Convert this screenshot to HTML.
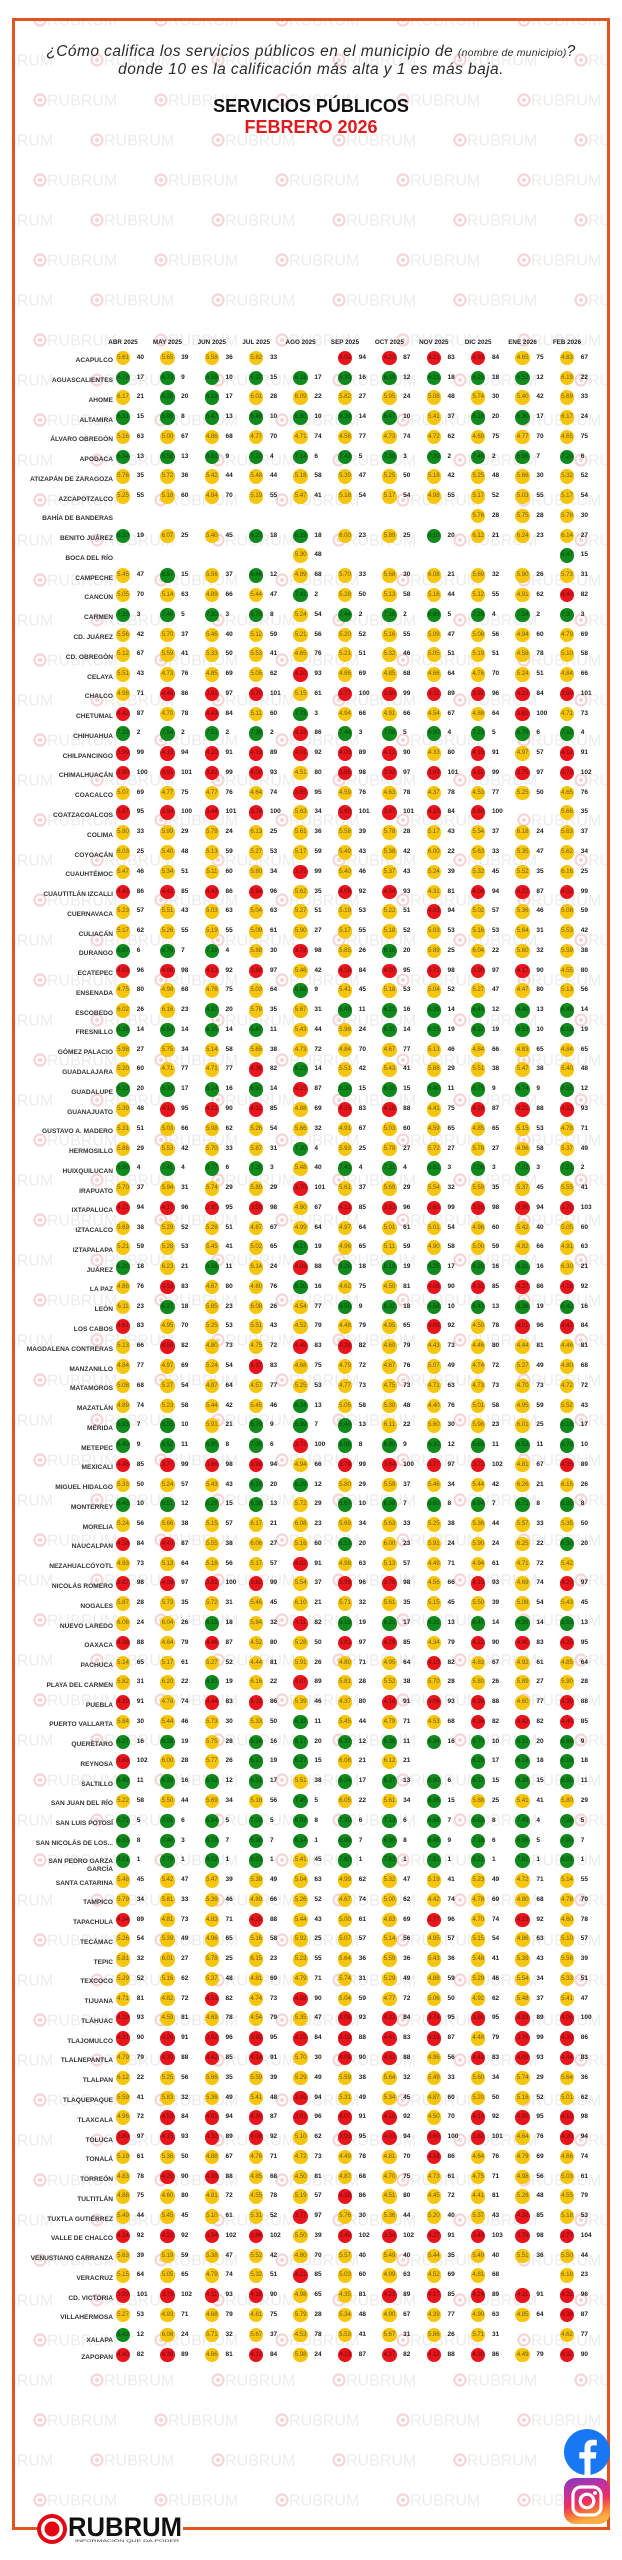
<!DOCTYPE html>
<html lang="es">
<head>
<meta charset="utf-8">
<style>
*{margin:0;padding:0;box-sizing:border-box}
html,body{width:622px;height:2560px;background:#fff;overflow:hidden}
body{position:relative;font-family:"Liberation Sans",Arial,sans-serif;color:#222}
.wm{position:absolute;left:0;top:0}
.frame{position:absolute;left:12px;top:18px;width:598px;height:2512px;border:3px solid #E5531F}
.q{position:absolute;left:0;width:622px;text-align:center;font-style:italic;font-size:15.5px;letter-spacing:.45px;line-height:18px;color:#2b2b2b;white-space:nowrap}
.q small{font-size:10.5px;letter-spacing:.2px}
.t{position:absolute;left:0;width:622px;text-align:center;font-weight:bold;font-size:18px;line-height:20px;white-space:nowrap;color:#111}
.h{position:absolute;top:339px;width:50px;text-align:center;font-size:6.3px;font-weight:bold;line-height:8px;color:#222;white-space:nowrap}
.w{position:absolute;left:0;width:622px;height:15px}
.l{position:absolute;right:509px;top:6.5px;font-size:6.6px;font-weight:bold;line-height:8px;color:#333;white-space:nowrap;text-align:right}
.w i{position:absolute;top:0;width:14.5px;height:14.5px;border-radius:50%;font-style:normal;font-size:6.2px;line-height:14.5px;text-align:center;color:rgba(0,0,0,.55);letter-spacing:-.1px}
.w b{position:absolute;left:21px;top:0;font-size:6.5px;line-height:14.5px;color:#1e1e1e;letter-spacing:0;text-align:left}
.y{background:#F6C50E}.g{background:#108A1C}.d{background:#E8161C}
.a0{left:115.75px}.a1{left:160.15px}.a2{left:204.55px}.a3{left:248.95px}.a4{left:293.35px}.a5{left:337.75px}.a6{left:382.15px}.a7{left:426.55px}.a8{left:470.95px}.a9{left:515.35px}.a10{left:559.75px}
</style>
</head>
<body>
<svg class="wm" width="622" height="2560" viewBox="0 0 622 2560">
<defs>
<pattern id="wp" patternUnits="userSpaceOnUse" x="0" y="440" width="121" height="80">
<g font-family="Liberation Sans, sans-serif" font-size="16" fill="#ececec">
<circle cx="97" cy="20" r="5.5" fill="none" stroke="#f5d6d6" stroke-width="2.2"/><circle cx="97" cy="20" r="2.2" fill="#f5d6d6"/>
<text x="104" y="25.7">RUBRUM</text>
<circle cx="-24" cy="20" r="5.5" fill="none" stroke="#f5d6d6" stroke-width="2.2"/><circle cx="-24" cy="20" r="2.2" fill="#f5d6d6"/>
<text x="-17" y="25.7">RUBRUM</text>
<circle cx="40" cy="60" r="5.5" fill="none" stroke="#f5d6d6" stroke-width="2.2"/><circle cx="40" cy="60" r="2.2" fill="#f5d6d6"/>
<text x="47" y="65.7">RUBRUM</text>
</g>
</pattern>
</defs>
<rect x="15" y="21" width="592" height="2506" fill="url(#wp)"/>
</svg>
<div class="frame"></div>

<div class="q" style="top:43px">¿Cómo califica los servicios públicos en el municipio de <small>(nombre de municipio)</small>?</div>
<div class="q" style="top:61px">donde 10 es la calificación más alta y 1 es más baja.</div>
<div class="t" style="top:96px">SERVICIOS PÚBLICOS</div>
<div class="t" style="top:117px;color:#E0191E">FEBRERO 2026</div>

<div class="h" style="left:98px">ABR 2025</div>
<div class="h" style="left:142.4px">MAY 2025</div>
<div class="h" style="left:186.8px">JUN 2025</div>
<div class="h" style="left:231.2px">JUL 2025</div>
<div class="h" style="left:275.6px">AGO 2025</div>
<div class="h" style="left:320px">SEP 2025</div>
<div class="h" style="left:364.4px">OCT 2025</div>
<div class="h" style="left:408.8px">NOV 2025</div>
<div class="h" style="left:453.2px">DIC 2025</div>
<div class="h" style="left:497.6px">ENE 2026</div>
<div class="h" style="left:542px">FEB 2026</div>

<div class="w" style="top:350.75px"><p class="l">ACAPULCO</p><i class="y a0">5.61<b>40</b></i><i class="y a1">5.65<b>39</b></i><i class="y a2">5.58<b>36</b></i><i class="y a3">5.82<b>33</b></i><i class="d a5">4.03<b>94</b></i><i class="d a6">4.23<b>87</b></i><i class="d a7">4.21<b>83</b></i><i class="d a8">4.35<b>84</b></i><i class="y a9">4.65<b>75</b></i><i class="y a10">4.83<b>67</b></i></div>
<div class="w" style="top:370.52px"><p class="l">AGUASCALIENTES</p><i class="g a0">6.78<b>17</b></i><i class="g a1">6.73<b>9</b></i><i class="g a2">6.59<b>10</b></i><i class="g a3">6.32<b>15</b></i><i class="g a4">6.18<b>17</b></i><i class="g a5">6.30<b>16</b></i><i class="g a6">6.39<b>12</b></i><i class="g a7">6.21<b>18</b></i><i class="g a8">6.25<b>18</b></i><i class="g a9">6.52<b>12</b></i><i class="y a10">6.19<b>22</b></i></div>
<div class="w" style="top:390.29px"><p class="l">AHOME</p><i class="y a0">6.17<b>21</b></i><i class="g a1">6.28<b>20</b></i><i class="g a2">6.19<b>17</b></i><i class="y a3">6.01<b>28</b></i><i class="y a4">6.09<b>22</b></i><i class="y a5">5.82<b>27</b></i><i class="y a6">5.95<b>24</b></i><i class="y a7">5.08<b>48</b></i><i class="y a8">5.74<b>30</b></i><i class="y a9">5.40<b>42</b></i><i class="y a10">5.69<b>33</b></i></div>
<div class="w" style="top:410.06px"><p class="l">ALTAMIRA</p><i class="g a0">6.31<b>15</b></i><i class="g a1">6.99<b>8</b></i><i class="g a2">6.47<b>13</b></i><i class="g a3">6.48<b>10</b></i><i class="g a4">6.60<b>10</b></i><i class="g a5">6.39<b>14</b></i><i class="g a6">6.47<b>10</b></i><i class="y a7">5.41<b>37</b></i><i class="g a8">6.18<b>20</b></i><i class="g a9">6.30<b>17</b></i><i class="y a10">6.17<b>24</b></i></div>
<div class="w" style="top:429.83px"><p class="l">ÁLVARO OBREGÓN</p><i class="y a0">5.16<b>63</b></i><i class="y a1">5.00<b>67</b></i><i class="y a2">4.86<b>68</b></i><i class="y a3">4.77<b>70</b></i><i class="y a4">4.71<b>74</b></i><i class="y a5">4.58<b>77</b></i><i class="y a6">4.73<b>74</b></i><i class="y a7">4.72<b>62</b></i><i class="y a8">4.69<b>75</b></i><i class="y a9">4.77<b>70</b></i><i class="y a10">4.65<b>75</b></i></div>
<div class="w" style="top:449.60px"><p class="l">APODACA</p><i class="g a0">6.34<b>13</b></i><i class="g a1">6.58<b>13</b></i><i class="g a2">6.81<b>9</b></i><i class="g a3">7.22<b>4</b></i><i class="g a4">7.14<b>6</b></i><i class="g a5">7.43<b>5</b></i><i class="g a6">7.39<b>3</b></i><i class="g a7">7.39<b>2</b></i><i class="g a8">7.48<b>2</b></i><i class="g a9">6.98<b>7</b></i><i class="g a10">7.20<b>6</b></i></div>
<div class="w" style="top:469.37px"><p class="l">ATIZAPÁN DE ZARAGOZA</p><i class="y a0">5.76<b>35</b></i><i class="y a1">5.72<b>36</b></i><i class="y a2">5.42<b>44</b></i><i class="y a3">5.48<b>44</b></i><i class="y a4">5.18<b>58</b></i><i class="y a5">5.39<b>47</b></i><i class="y a6">5.25<b>50</b></i><i class="y a7">5.18<b>42</b></i><i class="y a8">5.25<b>48</b></i><i class="y a9">5.66<b>30</b></i><i class="y a10">5.32<b>52</b></i></div>
<div class="w" style="top:489.14px"><p class="l">AZCAPOTZALCO</p><i class="y a0">5.25<b>55</b></i><i class="y a1">5.18<b>60</b></i><i class="y a2">4.84<b>70</b></i><i class="y a3">5.19<b>55</b></i><i class="y a4">5.47<b>41</b></i><i class="y a5">5.18<b>54</b></i><i class="y a6">5.17<b>54</b></i><i class="y a7">4.98<b>55</b></i><i class="y a8">5.17<b>52</b></i><i class="y a9">5.03<b>55</b></i><i class="y a10">5.17<b>54</b></i></div>
<div class="w" style="top:508.91px"><p class="l">BAHÍA DE BANDERAS</p><i class="y a8">5.76<b>28</b></i><i class="y a9">5.75<b>28</b></i><i class="y a10">5.78<b>30</b></i></div>
<div class="w" style="top:528.68px"><p class="l">BENITO JUÁREZ</p><i class="g a0">6.20<b>19</b></i><i class="y a1">6.07<b>25</b></i><i class="y a2">5.40<b>45</b></i><i class="g a3">6.27<b>18</b></i><i class="g a4">6.19<b>18</b></i><i class="y a5">6.00<b>23</b></i><i class="y a6">5.89<b>25</b></i><i class="g a7">6.10<b>20</b></i><i class="y a8">6.12<b>21</b></i><i class="y a9">6.24<b>23</b></i><i class="y a10">6.14<b>27</b></i></div>
<div class="w" style="top:548.45px"><p class="l">BOCA DEL RÍO</p><i class="y a4">5.30<b>48</b></i><i class="g a10">6.47<b>15</b></i></div>
<div class="w" style="top:568.22px"><p class="l">CAMPECHE</p><i class="y a0">5.45<b>47</b></i><i class="g a1">6.57<b>15</b></i><i class="y a2">5.56<b>37</b></i><i class="g a3">6.46<b>12</b></i><i class="y a4">4.89<b>68</b></i><i class="y a5">5.70<b>33</b></i><i class="y a6">5.68<b>30</b></i><i class="y a7">6.08<b>21</b></i><i class="y a8">5.69<b>32</b></i><i class="y a9">5.90<b>26</b></i><i class="y a10">5.73<b>31</b></i></div>
<div class="w" style="top:587.99px"><p class="l">CANCÚN</p><i class="y a0">5.05<b>70</b></i><i class="y a1">5.14<b>63</b></i><i class="y a2">4.89<b>66</b></i><i class="y a3">5.44<b>47</b></i><i class="g a4">7.41<b>2</b></i><i class="y a5">5.28<b>50</b></i><i class="y a6">5.13<b>58</b></i><i class="y a7">5.16<b>44</b></i><i class="y a8">5.12<b>55</b></i><i class="y a9">4.91<b>62</b></i><i class="d a10">4.40<b>82</b></i></div>
<div class="w" style="top:607.76px"><p class="l">CARMEN</p><i class="g a0">7.25<b>3</b></i><i class="g a1">7.40<b>5</b></i><i class="g a2">7.30<b>3</b></i><i class="g a3">6.73<b>8</b></i><i class="y a4">5.24<b>54</b></i><i class="g a5">7.44<b>2</b></i><i class="g a6">7.19<b>2</b></i><i class="g a7">6.89<b>5</b></i><i class="g a8">7.29<b>4</b></i><i class="g a9">7.54<b>2</b></i><i class="g a10">7.37<b>3</b></i></div>
<div class="w" style="top:627.53px"><p class="l">CD. JUÁREZ</p><i class="y a0">5.56<b>42</b></i><i class="y a1">5.70<b>37</b></i><i class="y a2">5.46<b>40</b></i><i class="y a3">5.12<b>59</b></i><i class="y a4">5.21<b>56</b></i><i class="y a5">5.20<b>52</b></i><i class="y a6">5.16<b>55</b></i><i class="y a7">5.09<b>47</b></i><i class="y a8">5.08<b>56</b></i><i class="y a9">4.94<b>60</b></i><i class="y a10">4.79<b>69</b></i></div>
<div class="w" style="top:647.30px"><p class="l">CD. OBREGÓN</p><i class="y a0">5.12<b>67</b></i><i class="y a1">5.59<b>41</b></i><i class="y a2">5.33<b>50</b></i><i class="y a3">5.53<b>41</b></i><i class="y a4">4.65<b>76</b></i><i class="y a5">5.21<b>51</b></i><i class="y a6">5.32<b>46</b></i><i class="y a7">5.05<b>51</b></i><i class="y a8">5.19<b>51</b></i><i class="y a9">4.58<b>78</b></i><i class="y a10">5.10<b>58</b></i></div>
<div class="w" style="top:667.07px"><p class="l">CELAYA</p><i class="y a0">5.51<b>43</b></i><i class="y a1">4.73<b>76</b></i><i class="y a2">4.85<b>69</b></i><i class="y a3">5.05<b>62</b></i><i class="d a4">4.10<b>93</b></i><i class="y a5">4.86<b>69</b></i><i class="y a6">4.85<b>68</b></i><i class="y a7">4.66<b>64</b></i><i class="y a8">4.76<b>70</b></i><i class="y a9">5.24<b>51</b></i><i class="y a10">4.84<b>66</b></i></div>
<div class="w" style="top:686.84px"><p class="l">CHALCO</p><i class="y a0">4.98<b>71</b></i><i class="d a1">4.48<b>86</b></i><i class="d a2">3.91<b>97</b></i><i class="d a3">3.70<b>101</b></i><i class="y a4">5.15<b>61</b></i><i class="d a5">3.77<b>100</b></i><i class="d a6">3.80<b>99</b></i><i class="d a7">4.11<b>89</b></i><i class="d a8">3.92<b>96</b></i><i class="d a9">4.23<b>84</b></i><i class="d a10">3.99<b>101</b></i></div>
<div class="w" style="top:706.61px"><p class="l">CHETUMAL</p><i class="d a0">4.42<b>87</b></i><i class="y a1">4.70<b>78</b></i><i class="d a2">4.43<b>84</b></i><i class="y a3">5.11<b>60</b></i><i class="g a4">7.73<b>3</b></i><i class="y a5">4.94<b>66</b></i><i class="y a6">4.91<b>66</b></i><i class="y a7">4.54<b>67</b></i><i class="y a8">4.88<b>64</b></i><i class="d a9">3.81<b>100</b></i><i class="y a10">4.71<b>73</b></i></div>
<div class="w" style="top:726.38px"><p class="l">CHIHUAHUA</p><i class="g a0">7.33<b>2</b></i><i class="g a1">7.54<b>2</b></i><i class="g a2">7.51<b>2</b></i><i class="g a3">7.39<b>2</b></i><i class="d a4">4.16<b>86</b></i><i class="g a5">7.44<b>3</b></i><i class="g a6">7.08<b>5</b></i><i class="g a7">6.90<b>4</b></i><i class="g a8">7.23<b>5</b></i><i class="g a9">6.79<b>6</b></i><i class="g a10">7.10<b>4</b></i></div>
<div class="w" style="top:746.15px"><p class="l">CHILPANCINGO</p><i class="d a0">3.99<b>99</b></i><i class="d a1">4.19<b>94</b></i><i class="d a2">4.20<b>91</b></i><i class="d a3">4.19<b>89</b></i><i class="d a4">4.01<b>92</b></i><i class="d a5">4.09<b>89</b></i><i class="d a6">4.12<b>90</b></i><i class="y a7">4.33<b>80</b></i><i class="d a8">4.15<b>91</b></i><i class="y a9">4.97<b>57</b></i><i class="d a10">4.12<b>91</b></i></div>
<div class="w" style="top:765.92px"><p class="l">CHIMALHUACÁN</p><i class="d a0">3.90<b>100</b></i><i class="d a1">3.91<b>101</b></i><i class="d a2">3.82<b>99</b></i><i class="d a3">4.00<b>93</b></i><i class="y a4">4.51<b>80</b></i><i class="d a5">3.85<b>98</b></i><i class="d a6">3.92<b>97</b></i><i class="d a7">3.69<b>101</b></i><i class="d a8">3.82<b>99</b></i><i class="d a9">3.75<b>97</b></i><i class="d a10">3.79<b>102</b></i></div>
<div class="w" style="top:785.69px"><p class="l">COACALCO</p><i class="y a0">5.07<b>69</b></i><i class="y a1">4.77<b>75</b></i><i class="y a2">4.77<b>76</b></i><i class="y a3">4.64<b>74</b></i><i class="d a4">3.85<b>95</b></i><i class="y a5">4.59<b>76</b></i><i class="y a6">4.63<b>78</b></i><i class="y a7">4.37<b>78</b></i><i class="y a8">4.53<b>77</b></i><i class="y a9">5.25<b>50</b></i><i class="y a10">4.65<b>76</b></i></div>
<div class="w" style="top:805.46px"><p class="l">COATZACOALCOS</p><i class="d a0">3.87<b>95</b></i><i class="d a1">3.94<b>100</b></i><i class="d a2">3.44<b>101</b></i><i class="d a3">3.78<b>100</b></i><i class="y a4">5.63<b>34</b></i><i class="d a5">3.68<b>101</b></i><i class="d a6">3.67<b>101</b></i><i class="d a7">4.10<b>84</b></i><i class="d a8">3.84<b>100</b></i><i class="y a10">5.66<b>35</b></i></div>
<div class="w" style="top:825.23px"><p class="l">COLIMA</p><i class="y a0">5.80<b>33</b></i><i class="y a1">5.99<b>29</b></i><i class="y a2">5.79<b>24</b></i><i class="y a3">6.13<b>25</b></i><i class="y a4">5.61<b>36</b></i><i class="y a5">5.58<b>39</b></i><i class="y a6">5.78<b>28</b></i><i class="y a7">5.17<b>43</b></i><i class="y a8">5.54<b>37</b></i><i class="y a9">6.18<b>24</b></i><i class="y a10">5.63<b>37</b></i></div>
<div class="w" style="top:845.00px"><p class="l">COYOACÁN</p><i class="y a0">6.03<b>25</b></i><i class="y a1">5.40<b>48</b></i><i class="y a2">5.13<b>59</b></i><i class="y a3">5.27<b>53</b></i><i class="y a4">5.17<b>59</b></i><i class="y a5">5.49<b>43</b></i><i class="y a6">5.38<b>42</b></i><i class="y a7">6.00<b>22</b></i><i class="y a8">5.63<b>33</b></i><i class="y a9">5.35<b>47</b></i><i class="y a10">5.62<b>34</b></i></div>
<div class="w" style="top:864.77px"><p class="l">CUAUHTÉMOC</p><i class="y a0">5.47<b>46</b></i><i class="y a1">5.34<b>51</b></i><i class="y a2">5.11<b>60</b></i><i class="y a3">5.80<b>34</b></i><i class="d a4">3.75<b>99</b></i><i class="y a5">5.40<b>46</b></i><i class="y a6">5.37<b>43</b></i><i class="y a7">5.24<b>39</b></i><i class="y a8">5.32<b>45</b></i><i class="y a9">5.52<b>35</b></i><i class="y a10">6.16<b>25</b></i></div>
<div class="w" style="top:884.54px"><p class="l">CUAUTITLÁN IZCALLI</p><i class="d a0">4.43<b>86</b></i><i class="d a1">4.41<b>85</b></i><i class="d a2">4.43<b>86</b></i><i class="d a3">3.94<b>96</b></i><i class="y a4">5.62<b>35</b></i><i class="d a5">4.06<b>92</b></i><i class="d a6">4.04<b>93</b></i><i class="y a7">4.31<b>81</b></i><i class="d a8">4.04<b>94</b></i><i class="d a9">4.22<b>87</b></i><i class="d a10">4.02<b>99</b></i></div>
<div class="w" style="top:904.31px"><p class="l">CUERNAVACA</p><i class="y a0">5.23<b>57</b></i><i class="y a1">5.51<b>43</b></i><i class="y a2">5.03<b>63</b></i><i class="y a3">5.04<b>63</b></i><i class="y a4">5.27<b>51</b></i><i class="y a5">5.19<b>53</b></i><i class="y a6">5.22<b>51</b></i><i class="d a7">4.03<b>94</b></i><i class="y a8">5.02<b>57</b></i><i class="y a9">5.36<b>46</b></i><i class="y a10">5.08<b>59</b></i></div>
<div class="w" style="top:924.08px"><p class="l">CULIACÁN</p><i class="y a0">5.17<b>62</b></i><i class="y a1">5.26<b>55</b></i><i class="y a2">5.19<b>55</b></i><i class="y a3">5.09<b>61</b></i><i class="y a4">5.90<b>27</b></i><i class="y a5">5.17<b>55</b></i><i class="y a6">5.18<b>52</b></i><i class="y a7">5.03<b>53</b></i><i class="y a8">5.16<b>53</b></i><i class="y a9">5.64<b>31</b></i><i class="y a10">5.53<b>42</b></i></div>
<div class="w" style="top:943.85px"><p class="l">DURANGO</p><i class="g a0">6.87<b>6</b></i><i class="g a1">6.79<b>7</b></i><i class="g a2">7.19<b>4</b></i><i class="y a3">5.88<b>30</b></i><i class="d a4">3.78<b>98</b></i><i class="y a5">5.85<b>26</b></i><i class="g a6">6.16<b>20</b></i><i class="y a7">5.89<b>25</b></i><i class="y a8">6.04<b>22</b></i><i class="y a9">5.60<b>32</b></i><i class="y a10">5.59<b>38</b></i></div>
<div class="w" style="top:963.62px"><p class="l">ECATEPEC</p><i class="d a0">4.03<b>96</b></i><i class="d a1">4.08<b>98</b></i><i class="d a2">4.13<b>92</b></i><i class="d a3">3.88<b>97</b></i><i class="y a4">5.46<b>42</b></i><i class="d a5">4.18<b>84</b></i><i class="d a6">4.00<b>95</b></i><i class="d a7">3.71<b>98</b></i><i class="d a8">3.90<b>97</b></i><i class="d a9">4.17<b>90</b></i><i class="y a10">4.55<b>80</b></i></div>
<div class="w" style="top:983.39px"><p class="l">ENSENADA</p><i class="y a0">4.75<b>80</b></i><i class="y a1">4.98<b>68</b></i><i class="y a2">4.78<b>75</b></i><i class="y a3">5.03<b>64</b></i><i class="g a4">6.88<b>9</b></i><i class="y a5">5.41<b>45</b></i><i class="y a6">5.18<b>53</b></i><i class="y a7">5.04<b>52</b></i><i class="y a8">5.27<b>47</b></i><i class="y a9">4.47<b>80</b></i><i class="y a10">5.13<b>56</b></i></div>
<div class="w" style="top:1003.16px"><p class="l">ESCOBEDO</p><i class="y a0">6.02<b>26</b></i><i class="y a1">6.16<b>23</b></i><i class="g a2">6.37<b>20</b></i><i class="y a3">5.78<b>35</b></i><i class="y a4">5.67<b>31</b></i><i class="g a5">6.49<b>11</b></i><i class="g a6">6.21<b>16</b></i><i class="g a7">6.39<b>14</b></i><i class="g a8">6.45<b>12</b></i><i class="g a9">6.40<b>13</b></i><i class="g a10">6.48<b>14</b></i></div>
<div class="w" style="top:1022.93px"><p class="l">FRESNILLO</p><i class="g a0">6.35<b>14</b></i><i class="g a1">6.50<b>14</b></i><i class="g a2">6.35<b>14</b></i><i class="g a3">6.47<b>11</b></i><i class="y a4">5.43<b>44</b></i><i class="y a5">5.98<b>24</b></i><i class="g a6">6.31<b>14</b></i><i class="g a7">6.15<b>19</b></i><i class="g a8">6.22<b>19</b></i><i class="g a9">6.53<b>10</b></i><i class="g a10">6.18<b>19</b></i></div>
<div class="w" style="top:1042.70px"><p class="l">GÓMEZ PALACIO</p><i class="y a0">5.98<b>27</b></i><i class="y a1">5.75<b>34</b></i><i class="y a2">5.14<b>58</b></i><i class="y a3">5.65<b>38</b></i><i class="y a4">4.73<b>72</b></i><i class="y a5">4.84<b>70</b></i><i class="y a6">4.67<b>77</b></i><i class="y a7">5.13<b>46</b></i><i class="y a8">4.84<b>66</b></i><i class="y a9">4.83<b>65</b></i><i class="y a10">4.84<b>65</b></i></div>
<div class="w" style="top:1062.47px"><p class="l">GUADALAJARA</p><i class="y a0">5.20<b>60</b></i><i class="y a1">4.71<b>77</b></i><i class="y a2">4.71<b>77</b></i><i class="d a3">4.38<b>82</b></i><i class="g a4">6.23<b>14</b></i><i class="y a5">5.51<b>42</b></i><i class="y a6">5.43<b>41</b></i><i class="y a7">5.66<b>29</b></i><i class="y a8">5.51<b>38</b></i><i class="y a9">5.47<b>38</b></i><i class="y a10">5.40<b>48</b></i></div>
<div class="w" style="top:1082.24px"><p class="l">GUADALUPE</p><i class="g a0">6.19<b>20</b></i><i class="g a1">6.39<b>17</b></i><i class="g a2">6.24<b>16</b></i><i class="g a3">6.37<b>14</b></i><i class="d a4">4.15<b>87</b></i><i class="g a5">6.30<b>15</b></i><i class="g a6">6.30<b>15</b></i><i class="g a7">6.40<b>11</b></i><i class="g a8">6.75<b>9</b></i><i class="g a9">6.74<b>9</b></i><i class="g a10">6.55<b>12</b></i></div>
<div class="w" style="top:1102.01px"><p class="l">GUANAJUATO</p><i class="y a0">5.39<b>48</b></i><i class="d a1">4.11<b>95</b></i><i class="d a2">4.21<b>90</b></i><i class="d a3">4.12<b>85</b></i><i class="y a4">4.88<b>69</b></i><i class="d a5">4.25<b>83</b></i><i class="d a6">4.18<b>88</b></i><i class="y a7">4.41<b>75</b></i><i class="d a8">4.28<b>87</b></i><i class="d a9">4.21<b>88</b></i><i class="d a10">4.22<b>93</b></i></div>
<div class="w" style="top:1121.78px"><p class="l">GUSTAVO A. MADERO</p><i class="y a0">5.31<b>51</b></i><i class="y a1">5.03<b>66</b></i><i class="y a2">5.08<b>62</b></i><i class="y a3">5.26<b>54</b></i><i class="y a4">5.66<b>32</b></i><i class="y a5">4.91<b>67</b></i><i class="y a6">5.03<b>60</b></i><i class="y a7">4.59<b>65</b></i><i class="y a8">4.85<b>65</b></i><i class="y a9">5.15<b>53</b></i><i class="y a10">4.78<b>71</b></i></div>
<div class="w" style="top:1141.55px"><p class="l">HERMOSILLO</p><i class="y a0">5.86<b>29</b></i><i class="y a1">5.53<b>42</b></i><i class="y a2">5.70<b>33</b></i><i class="y a3">5.87<b>31</b></i><i class="g a4">7.30<b>4</b></i><i class="y a5">5.93<b>25</b></i><i class="y a6">5.79<b>27</b></i><i class="y a7">5.72<b>27</b></i><i class="y a8">5.78<b>27</b></i><i class="y a9">4.96<b>58</b></i><i class="y a10">5.37<b>49</b></i></div>
<div class="w" style="top:1161.32px"><p class="l">HUIXQUILUCAN</p><i class="g a0">6.96<b>4</b></i><i class="g a1">7.41<b>4</b></i><i class="g a2">6.77<b>6</b></i><i class="g a3">7.29<b>3</b></i><i class="y a4">5.48<b>40</b></i><i class="g a5">7.43<b>4</b></i><i class="g a6">7.31<b>4</b></i><i class="g a7">6.82<b>3</b></i><i class="g a8">7.06<b>3</b></i><i class="g a9">7.02<b>3</b></i><i class="g a10">7.51<b>2</b></i></div>
<div class="w" style="top:1181.09px"><p class="l">IRAPUATO</p><i class="y a0">5.70<b>37</b></i><i class="y a1">5.94<b>31</b></i><i class="y a2">5.74<b>29</b></i><i class="y a3">5.89<b>29</b></i><i class="d a4">3.70<b>101</b></i><i class="y a5">5.61<b>37</b></i><i class="y a6">5.69<b>29</b></i><i class="y a7">5.54<b>32</b></i><i class="y a8">5.59<b>35</b></i><i class="y a9">5.37<b>45</b></i><i class="y a10">5.55<b>41</b></i></div>
<div class="w" style="top:1200.86px"><p class="l">IXTAPALUCA</p><i class="d a0">4.21<b>94</b></i><i class="d a1">4.10<b>96</b></i><i class="d a2">3.95<b>95</b></i><i class="d a3">3.88<b>98</b></i><i class="y a4">4.90<b>67</b></i><i class="d a5">4.13<b>85</b></i><i class="d a6">3.93<b>96</b></i><i class="d a7">3.63<b>99</b></i><i class="d a8">3.86<b>98</b></i><i class="d a9">3.96<b>94</b></i><i class="d a10">3.70<b>103</b></i></div>
<div class="w" style="top:1220.63px"><p class="l">IZTACALCO</p><i class="y a0">5.69<b>38</b></i><i class="y a1">5.29<b>52</b></i><i class="y a2">5.28<b>51</b></i><i class="y a3">4.87<b>67</b></i><i class="y a4">4.99<b>64</b></i><i class="y a5">4.97<b>64</b></i><i class="y a6">5.01<b>61</b></i><i class="y a7">5.01<b>54</b></i><i class="y a8">4.98<b>60</b></i><i class="y a9">5.42<b>40</b></i><i class="y a10">5.05<b>60</b></i></div>
<div class="w" style="top:1240.40px"><p class="l">IZTAPALAPA</p><i class="y a0">5.21<b>59</b></i><i class="y a1">5.28<b>53</b></i><i class="y a2">5.45<b>41</b></i><i class="y a3">5.02<b>65</b></i><i class="g a4">6.17<b>19</b></i><i class="y a5">4.96<b>65</b></i><i class="y a6">5.11<b>59</b></i><i class="y a7">4.90<b>58</b></i><i class="y a8">5.00<b>59</b></i><i class="y a9">4.82<b>66</b></i><i class="y a10">4.91<b>63</b></i></div>
<div class="w" style="top:1260.17px"><p class="l">JUÁREZ</p><i class="g a0">6.29<b>18</b></i><i class="y a1">6.23<b>21</b></i><i class="g a2">6.58<b>11</b></i><i class="y a3">6.14<b>24</b></i><i class="d a4">4.08<b>88</b></i><i class="g a5">6.28<b>18</b></i><i class="g a6">6.19<b>19</b></i><i class="g a7">6.25<b>17</b></i><i class="g a8">6.28<b>16</b></i><i class="g a9">6.31<b>16</b></i><i class="y a10">6.30<b>21</b></i></div>
<div class="w" style="top:1279.94px"><p class="l">LA PAZ</p><i class="y a0">4.86<b>76</b></i><i class="d a1">4.53<b>83</b></i><i class="y a2">4.67<b>80</b></i><i class="y a3">4.60<b>76</b></i><i class="g a4">6.20<b>16</b></i><i class="y a5">4.62<b>75</b></i><i class="y a6">4.50<b>81</b></i><i class="d a7">4.08<b>90</b></i><i class="d a8">4.32<b>85</b></i><i class="d a9">4.27<b>86</b></i><i class="d a10">4.18<b>92</b></i></div>
<div class="w" style="top:1299.71px"><p class="l">LEÓN</p><i class="y a0">6.11<b>23</b></i><i class="g a1">6.27<b>18</b></i><i class="y a2">5.85<b>23</b></i><i class="y a3">6.08<b>26</b></i><i class="y a4">4.54<b>77</b></i><i class="g a5">6.59<b>9</b></i><i class="g a6">6.32<b>18</b></i><i class="g a7">6.58<b>10</b></i><i class="g a8">6.43<b>13</b></i><i class="g a9">6.36<b>19</b></i><i class="g a10">6.42<b>16</b></i></div>
<div class="w" style="top:1319.48px"><p class="l">LOS CABOS</p><i class="d a0">4.61<b>83</b></i><i class="y a1">4.95<b>70</b></i><i class="y a2">5.25<b>53</b></i><i class="y a3">5.51<b>43</b></i><i class="y a4">4.52<b>79</b></i><i class="y a5">4.48<b>79</b></i><i class="y a6">4.95<b>65</b></i><i class="d a7">4.08<b>92</b></i><i class="y a8">4.50<b>78</b></i><i class="d a9">4.01<b>96</b></i><i class="d a10">4.42<b>84</b></i></div>
<div class="w" style="top:1339.25px"><p class="l">MAGDALENA CONTRERAS</p><i class="y a0">5.13<b>66</b></i><i class="d a1">4.58<b>82</b></i><i class="y a2">4.80<b>73</b></i><i class="y a3">4.75<b>72</b></i><i class="d a4">4.49<b>83</b></i><i class="d a5">4.24<b>82</b></i><i class="y a6">4.60<b>79</b></i><i class="y a7">4.43<b>73</b></i><i class="y a8">4.46<b>80</b></i><i class="y a9">4.44<b>81</b></i><i class="y a10">4.46<b>81</b></i></div>
<div class="w" style="top:1359.02px"><p class="l">MANZANILLO</p><i class="y a0">4.84<b>77</b></i><i class="y a1">4.97<b>69</b></i><i class="y a2">5.24<b>54</b></i><i class="d a3">4.37<b>83</b></i><i class="y a4">4.68<b>75</b></i><i class="y a5">4.79<b>72</b></i><i class="y a6">4.67<b>76</b></i><i class="y a7">5.07<b>49</b></i><i class="y a8">4.74<b>72</b></i><i class="y a9">5.27<b>49</b></i><i class="y a10">4.80<b>68</b></i></div>
<div class="w" style="top:1378.79px"><p class="l">MATAMOROS</p><i class="y a0">5.08<b>68</b></i><i class="y a1">5.27<b>54</b></i><i class="y a2">4.97<b>64</b></i><i class="y a3">4.57<b>77</b></i><i class="y a4">5.25<b>53</b></i><i class="y a5">4.77<b>73</b></i><i class="y a6">4.75<b>73</b></i><i class="y a7">4.71<b>63</b></i><i class="y a8">4.73<b>73</b></i><i class="y a9">4.70<b>73</b></i><i class="y a10">4.72<b>72</b></i></div>
<div class="w" style="top:1398.56px"><p class="l">MAZATLÁN</p><i class="y a0">4.89<b>74</b></i><i class="y a1">5.23<b>58</b></i><i class="y a2">5.44<b>42</b></i><i class="y a3">5.45<b>46</b></i><i class="g a4">6.24<b>13</b></i><i class="y a5">5.05<b>58</b></i><i class="y a6">5.30<b>48</b></i><i class="y a7">4.40<b>76</b></i><i class="y a8">5.01<b>58</b></i><i class="y a9">4.95<b>59</b></i><i class="y a10">5.52<b>43</b></i></div>
<div class="w" style="top:1418.33px"><p class="l">MÉRIDA</p><i class="g a0">6.93<b>7</b></i><i class="g a1">6.55<b>10</b></i><i class="y a2">5.91<b>21</b></i><i class="g a3">6.79<b>9</b></i><i class="g a4">6.99<b>7</b></i><i class="g a5">6.40<b>13</b></i><i class="y a6">6.11<b>22</b></i><i class="y a7">5.60<b>30</b></i><i class="y a8">5.98<b>23</b></i><i class="y a9">6.01<b>25</b></i><i class="g a10">6.16<b>17</b></i></div>
<div class="w" style="top:1438.10px"><p class="l">METEPEC</p><i class="g a0">6.49<b>9</b></i><i class="g a1">6.52<b>11</b></i><i class="g a2">6.95<b>8</b></i><i class="g a3">7.00<b>6</b></i><i class="d a4">3.73<b>100</b></i><i class="g a5">6.98<b>8</b></i><i class="g a6">6.90<b>9</b></i><i class="g a7">6.30<b>12</b></i><i class="g a8">6.65<b>11</b></i><i class="g a9">6.53<b>11</b></i><i class="g a10">6.70<b>10</b></i></div>
<div class="w" style="top:1457.87px"><p class="l">MEXICALI</p><i class="d a0">4.46<b>85</b></i><i class="d a1">3.77<b>99</b></i><i class="d a2">3.86<b>98</b></i><i class="d a3">3.98<b>94</b></i><i class="y a4">4.94<b>66</b></i><i class="d a5">3.79<b>99</b></i><i class="d a6">3.84<b>100</b></i><i class="d a7">3.77<b>97</b></i><i class="d a8">3.72<b>102</b></i><i class="y a9">4.81<b>67</b></i><i class="d a10">4.35<b>89</b></i></div>
<div class="w" style="top:1477.64px"><p class="l">MIGUEL HIDALGO</p><i class="y a0">5.33<b>50</b></i><i class="y a1">5.24<b>57</b></i><i class="y a2">5.43<b>43</b></i><i class="g a3">6.18<b>20</b></i><i class="g a4">6.29<b>12</b></i><i class="y a5">5.80<b>29</b></i><i class="y a6">5.59<b>37</b></i><i class="y a7">5.46<b>34</b></i><i class="y a8">5.44<b>42</b></i><i class="y a9">6.26<b>21</b></i><i class="y a10">6.15<b>26</b></i></div>
<div class="w" style="top:1497.41px"><p class="l">MONTERREY</p><i class="g a0">6.46<b>10</b></i><i class="g a1">6.51<b>12</b></i><i class="g a2">6.29<b>15</b></i><i class="g a3">6.38<b>13</b></i><i class="y a4">5.72<b>29</b></i><i class="g a5">6.67<b>10</b></i><i class="g a6">6.99<b>7</b></i><i class="g a7">6.60<b>8</b></i><i class="g a8">6.94<b>7</b></i><i class="g a9">6.71<b>8</b></i><i class="g a10">6.85<b>8</b></i></div>
<div class="w" style="top:1517.18px"><p class="l">MORELIA</p><i class="y a0">5.24<b>56</b></i><i class="y a1">5.66<b>38</b></i><i class="y a2">5.15<b>57</b></i><i class="y a3">6.17<b>21</b></i><i class="y a4">6.08<b>23</b></i><i class="y a5">5.69<b>34</b></i><i class="y a6">5.63<b>33</b></i><i class="y a7">5.25<b>38</b></i><i class="y a8">5.36<b>44</b></i><i class="y a9">5.57<b>33</b></i><i class="y a10">5.35<b>50</b></i></div>
<div class="w" style="top:1536.95px"><p class="l">NAUCALPAN</p><i class="d a0">4.58<b>84</b></i><i class="d a1">4.40<b>87</b></i><i class="y a2">5.55<b>38</b></i><i class="y a3">6.06<b>27</b></i><i class="y a4">5.16<b>60</b></i><i class="g a5">6.13<b>20</b></i><i class="y a6">6.00<b>23</b></i><i class="y a7">5.91<b>24</b></i><i class="y a8">5.90<b>24</b></i><i class="y a9">6.25<b>22</b></i><i class="g a10">6.30<b>20</b></i></div>
<div class="w" style="top:1556.72px"><p class="l">NEZAHUALCÓYOTL</p><i class="y a0">4.93<b>73</b></i><i class="y a1">5.13<b>64</b></i><i class="y a2">5.18<b>56</b></i><i class="y a3">5.17<b>57</b></i><i class="d a4">4.02<b>91</b></i><i class="y a5">4.98<b>63</b></i><i class="y a6">5.13<b>57</b></i><i class="y a7">4.49<b>71</b></i><i class="y a8">4.94<b>61</b></i><i class="y a9">4.71<b>72</b></i><i class="y a10">5.42</i></div>
<div class="w" style="top:1576.49px"><p class="l">NICOLÁS ROMERO</p><i class="d a0">3.87<b>98</b></i><i class="d a1">4.09<b>97</b></i><i class="d a2">3.81<b>100</b></i><i class="d a3">3.82<b>99</b></i><i class="y a4">5.54<b>37</b></i><i class="d a5">3.99<b>96</b></i><i class="d a6">3.78<b>98</b></i><i class="y a7">4.56<b>66</b></i><i class="d a8">4.10<b>93</b></i><i class="y a9">4.69<b>74</b></i><i class="d a10">4.20<b>97</b></i></div>
<div class="w" style="top:1596.26px"><p class="l">NOGALES</p><i class="y a0">5.87<b>28</b></i><i class="y a1">5.73<b>35</b></i><i class="y a2">5.72<b>31</b></i><i class="y a3">5.46<b>45</b></i><i class="y a4">6.10<b>21</b></i><i class="y a5">5.71<b>32</b></i><i class="y a6">5.61<b>35</b></i><i class="y a7">5.15<b>45</b></i><i class="y a8">5.50<b>39</b></i><i class="y a9">5.08<b>54</b></i><i class="y a10">5.43<b>45</b></i></div>
<div class="w" style="top:1616.03px"><p class="l">NUEVO LAREDO</p><i class="y a0">6.08<b>24</b></i><i class="y a1">6.04<b>26</b></i><i class="g a2">6.15<b>18</b></i><i class="y a3">5.84<b>32</b></i><i class="d a4">4.11<b>82</b></i><i class="g a5">6.19<b>19</b></i><i class="g a6">6.25<b>17</b></i><i class="g a7">6.31<b>13</b></i><i class="g a8">6.47<b>14</b></i><i class="g a9">6.39<b>14</b></i><i class="g a10">6.53<b>13</b></i></div>
<div class="w" style="top:1635.80px"><p class="l">OAXACA</p><i class="d a0">4.38<b>88</b></i><i class="y a1">4.64<b>79</b></i><i class="d a2">4.46<b>87</b></i><i class="y a3">4.52<b>80</b></i><i class="y a4">5.28<b>50</b></i><i class="d a5">3.81<b>97</b></i><i class="d a6">4.29<b>85</b></i><i class="y a7">4.34<b>79</b></i><i class="d a8">4.22<b>90</b></i><i class="d a9">4.40<b>83</b></i><i class="d a10">4.25<b>95</b></i></div>
<div class="w" style="top:1655.57px"><p class="l">PACHUCA</p><i class="y a0">5.14<b>65</b></i><i class="y a1">5.17<b>61</b></i><i class="y a2">5.27<b>52</b></i><i class="y a3">4.44<b>81</b></i><i class="y a4">5.91<b>26</b></i><i class="y a5">4.80<b>71</b></i><i class="y a6">4.95<b>64</b></i><i class="d a7">4.10<b>82</b></i><i class="y a8">4.83<b>67</b></i><i class="y a9">4.92<b>61</b></i><i class="y a10">4.85<b>64</b></i></div>
<div class="w" style="top:1675.34px"><p class="l">PLAYA DEL CARMEN</p><i class="y a0">5.82<b>31</b></i><i class="y a1">6.20<b>22</b></i><i class="g a2">6.31<b>19</b></i><i class="y a3">6.16<b>22</b></i><i class="d a4">4.07<b>89</b></i><i class="y a5">5.81<b>28</b></i><i class="y a6">5.52<b>38</b></i><i class="y a7">5.70<b>28</b></i><i class="y a8">5.80<b>26</b></i><i class="y a9">5.89<b>27</b></i><i class="y a10">5.90<b>28</b></i></div>
<div class="w" style="top:1695.11px"><p class="l">PUEBLA</p><i class="d a0">4.29<b>91</b></i><i class="y a1">4.78<b>74</b></i><i class="d a2">4.44<b>83</b></i><i class="d a3">4.33<b>86</b></i><i class="y a4">5.39<b>46</b></i><i class="y a5">4.37<b>80</b></i><i class="d a6">4.16<b>91</b></i><i class="d a7">4.06<b>93</b></i><i class="d a8">4.26<b>88</b></i><i class="y a9">4.60<b>77</b></i><i class="d a10">4.38<b>88</b></i></div>
<div class="w" style="top:1714.88px"><p class="l">PUERTO VALLARTA</p><i class="y a0">5.84<b>30</b></i><i class="y a1">5.44<b>46</b></i><i class="y a2">5.73<b>30</b></i><i class="y a3">5.33<b>50</b></i><i class="g a4">6.32<b>11</b></i><i class="y a5">5.45<b>44</b></i><i class="y a6">4.79<b>71</b></i><i class="y a7">4.53<b>68</b></i><i class="d a8">4.36<b>82</b></i><i class="d a9">4.42<b>82</b></i><i class="d a10">4.40<b>85</b></i></div>
<div class="w" style="top:1734.65px"><p class="l">QUERÉTARO</p><i class="g a0">6.27<b>16</b></i><i class="g a1">6.28<b>19</b></i><i class="y a2">5.75<b>28</b></i><i class="g a3">6.34<b>16</b></i><i class="g a4">6.17<b>20</b></i><i class="g a5">6.37<b>12</b></i><i class="g a6">6.38<b>11</b></i><i class="g a7">6.34<b>16</b></i><i class="g a8">6.70<b>10</b></i><i class="g a9">6.31<b>20</b></i><i class="g a10">6.88<b>9</b></i></div>
<div class="w" style="top:1754.42px"><p class="l">REYNOSA</p><i class="d a0">3.68<b>102</b></i><i class="y a1">6.00<b>28</b></i><i class="y a2">5.77<b>26</b></i><i class="g a3">6.17<b>19</b></i><i class="g a4">6.27<b>15</b></i><i class="y a5">6.08<b>21</b></i><i class="y a6">6.12<b>21</b></i><i class="g a8">6.29<b>17</b></i><i class="g a9">6.18<b>18</b></i><i class="g a10">6.19<b>18</b></i></div>
<div class="w" style="top:1774.19px"><p class="l">SALTILLO</p><i class="g a0">6.49<b>11</b></i><i class="g a1">6.29<b>16</b></i><i class="g a2">6.52<b>12</b></i><i class="g a3">6.31<b>17</b></i><i class="y a4">5.51<b>38</b></i><i class="g a5">6.24<b>17</b></i><i class="g a6">6.37<b>13</b></i><i class="g a7">6.90<b>6</b></i><i class="g a8">6.37<b>15</b></i><i class="g a9">6.38<b>15</b></i><i class="g a10">6.56<b>11</b></i></div>
<div class="w" style="top:1793.96px"><p class="l">SAN JUAN DEL RÍO</p><i class="y a0">5.22<b>58</b></i><i class="y a1">5.50<b>44</b></i><i class="y a2">5.69<b>34</b></i><i class="y a3">5.18<b>56</b></i><i class="g a4">7.45<b>5</b></i><i class="y a5">6.05<b>22</b></i><i class="y a6">5.61<b>34</b></i><i class="g a7">6.35<b>15</b></i><i class="y a8">5.88<b>25</b></i><i class="y a9">5.41<b>41</b></i><i class="y a10">5.80<b>29</b></i></div>
<div class="w" style="top:1813.73px"><p class="l">SAN LUIS POTOSÍ</p><i class="g a0">6.72<b>5</b></i><i class="g a1">7.01<b>6</b></i><i class="g a2">6.84<b>5</b></i><i class="g a3">7.03<b>5</b></i><i class="g a4">6.93<b>8</b></i><i class="g a5">7.39<b>6</b></i><i class="g a6">7.13<b>6</b></i><i class="g a7">6.66<b>7</b></i><i class="g a8">6.83<b>8</b></i><i class="g a9">7.49<b>4</b></i><i class="g a10">7.28<b>5</b></i></div>
<div class="w" style="top:1833.50px"><p class="l">SAN NICOLÁS DE LOS...</p><i class="g a0">6.53<b>8</b></i><i class="g a1">7.40<b>3</b></i><i class="g a2">6.78<b>7</b></i><i class="g a3">6.98<b>7</b></i><i class="g a4">8.14<b>1</b></i><i class="g a5">6.89<b>7</b></i><i class="g a6">6.90<b>8</b></i><i class="g a7">6.46<b>9</b></i><i class="g a8">7.18<b>6</b></i><i class="g a9">6.98<b>5</b></i><i class="g a10">7.00<b>7</b></i></div>
<div class="w" style="top:1853.27px"><p class="l" style="top:5px">SAN PEDRO GARZA<br>GARCÍA</p><i class="g a0">8.01<b>1</b></i><i class="g a1">7.79<b>1</b></i><i class="g a2">8.02<b>1</b></i><i class="g a3">8.03<b>1</b></i><i class="y a4">5.41<b>45</b></i><i class="g a5">7.60<b>1</b></i><i class="g a6">7.82<b>1</b></i><i class="g a7">7.91<b>1</b></i><i class="g a8">8.21<b>1</b></i><i class="g a9">7.82<b>1</b></i><i class="g a10">8.01<b>1</b></i></div>
<div class="w" style="top:1873.04px"><p class="l">SANTA CATARINA</p><i class="y a0">5.48<b>45</b></i><i class="y a1">5.42<b>47</b></i><i class="y a2">5.47<b>39</b></i><i class="y a3">5.38<b>49</b></i><i class="y a4">5.04<b>63</b></i><i class="y a5">4.99<b>62</b></i><i class="y a6">5.32<b>47</b></i><i class="y a7">5.19<b>41</b></i><i class="y a8">5.23<b>49</b></i><i class="y a9">4.72<b>71</b></i><i class="y a10">5.14<b>55</b></i></div>
<div class="w" style="top:1892.81px"><p class="l">TAMPICO</p><i class="y a0">5.79<b>34</b></i><i class="y a1">5.81<b>33</b></i><i class="y a2">5.39<b>46</b></i><i class="y a3">4.89<b>66</b></i><i class="y a4">5.26<b>52</b></i><i class="y a5">4.67<b>74</b></i><i class="y a6">5.00<b>62</b></i><i class="y a7">4.42<b>74</b></i><i class="y a8">4.78<b>69</b></i><i class="y a9">4.80<b>68</b></i><i class="y a10">4.78<b>70</b></i></div>
<div class="w" style="top:1912.58px"><p class="l">TAPACHULA</p><i class="d a0">4.34<b>89</b></i><i class="y a1">4.81<b>73</b></i><i class="y a2">4.83<b>71</b></i><i class="d a3">4.29<b>88</b></i><i class="y a4">5.44<b>43</b></i><i class="y a5">5.00<b>61</b></i><i class="y a6">4.83<b>69</b></i><i class="d a7">3.77<b>96</b></i><i class="y a8">4.70<b>74</b></i><i class="d a9">4.19<b>92</b></i><i class="y a10">4.60<b>78</b></i></div>
<div class="w" style="top:1932.35px"><p class="l">TECÁMAC</p><i class="y a0">5.26<b>54</b></i><i class="y a1">5.39<b>49</b></i><i class="y a2">4.96<b>65</b></i><i class="y a3">5.16<b>58</b></i><i class="y a4">5.92<b>25</b></i><i class="y a5">5.07<b>57</b></i><i class="y a6">5.14<b>56</b></i><i class="y a7">4.95<b>57</b></i><i class="y a8">5.15<b>54</b></i><i class="y a9">4.86<b>63</b></i><i class="y a10">5.10<b>57</b></i></div>
<div class="w" style="top:1952.12px"><p class="l">TEPIC</p><i class="y a0">5.81<b>32</b></i><i class="y a1">6.01<b>27</b></i><i class="y a2">5.78<b>25</b></i><i class="y a3">6.15<b>23</b></i><i class="y a4">5.23<b>55</b></i><i class="y a5">5.64<b>36</b></i><i class="y a6">5.59<b>36</b></i><i class="y a7">5.43<b>36</b></i><i class="y a8">5.48<b>41</b></i><i class="y a9">5.39<b>43</b></i><i class="y a10">5.58<b>39</b></i></div>
<div class="w" style="top:1971.89px"><p class="l">TEXCOCO</p><i class="y a0">5.29<b>52</b></i><i class="y a1">5.16<b>62</b></i><i class="y a2">5.37<b>48</b></i><i class="y a3">4.81<b>69</b></i><i class="y a4">4.79<b>71</b></i><i class="y a5">5.74<b>31</b></i><i class="y a6">5.29<b>49</b></i><i class="y a7">4.88<b>59</b></i><i class="y a8">5.29<b>46</b></i><i class="y a9">5.54<b>34</b></i><i class="y a10">5.33<b>51</b></i></div>
<div class="w" style="top:1991.66px"><p class="l">TIJUANA</p><i class="y a0">4.71<b>81</b></i><i class="y a1">4.82<b>72</b></i><i class="d a2">4.51<b>82</b></i><i class="y a3">4.74<b>73</b></i><i class="d a4">4.08<b>90</b></i><i class="y a5">5.04<b>59</b></i><i class="y a6">4.77<b>72</b></i><i class="y a7">5.06<b>50</b></i><i class="y a8">4.92<b>62</b></i><i class="y a9">5.48<b>37</b></i><i class="y a10">5.41<b>47</b></i></div>
<div class="w" style="top:2011.43px"><p class="l">TLÁHUAC</p><i class="d a0">4.19<b>93</b></i><i class="y a1">4.59<b>81</b></i><i class="y a2">4.69<b>78</b></i><i class="y a3">4.54<b>79</b></i><i class="y a4">5.35<b>47</b></i><i class="d a5">4.08<b>93</b></i><i class="d a6">4.32<b>84</b></i><i class="d a7">3.74<b>95</b></i><i class="d a8">3.80<b>95</b></i><i class="d a9">4.19<b>89</b></i><i class="d a10">4.06<b>100</b></i></div>
<div class="w" style="top:2031.20px"><p class="l">TLAJOMULCO</p><i class="d a0">4.31<b>90</b></i><i class="d a1">4.26<b>91</b></i><i class="d a2">3.92<b>96</b></i><i class="d a3">3.93<b>95</b></i><i class="d a4">4.25<b>84</b></i><i class="d a5">4.19<b>88</b></i><i class="d a6">4.41<b>83</b></i><i class="d a7">4.19<b>87</b></i><i class="y a8">4.48<b>79</b></i><i class="d a9">3.76<b>99</b></i><i class="d a10">4.39<b>86</b></i></div>
<div class="w" style="top:2050.97px"><p class="l">TLALNEPANTLA</p><i class="y a0">4.79<b>79</b></i><i class="d a1">4.39<b>88</b></i><i class="d a2">4.42<b>85</b></i><i class="d a3">4.14<b>91</b></i><i class="y a4">5.70<b>30</b></i><i class="d a5">4.08<b>90</b></i><i class="d a6">4.32<b>88</b></i><i class="y a7">4.96<b>56</b></i><i class="d a8">4.48<b>83</b></i><i class="d a9">4.09<b>93</b></i><i class="d a10">4.44<b>83</b></i></div>
<div class="w" style="top:2070.74px"><p class="l">TLALPAN</p><i class="y a0">6.12<b>22</b></i><i class="y a1">5.25<b>56</b></i><i class="y a2">5.66<b>35</b></i><i class="y a3">5.59<b>39</b></i><i class="y a4">5.29<b>49</b></i><i class="y a5">5.59<b>38</b></i><i class="y a6">5.64<b>32</b></i><i class="y a7">5.49<b>33</b></i><i class="y a8">5.60<b>34</b></i><i class="y a9">5.74<b>29</b></i><i class="y a10">5.64<b>36</b></i></div>
<div class="w" style="top:2090.51px"><p class="l">TLAQUEPAQUE</p><i class="y a0">5.59<b>41</b></i><i class="y a1">5.83<b>32</b></i><i class="y a2">5.36<b>49</b></i><i class="y a3">5.41<b>48</b></i><i class="d a4">3.95<b>94</b></i><i class="y a5">5.31<b>49</b></i><i class="y a6">5.34<b>45</b></i><i class="y a7">4.87<b>60</b></i><i class="y a8">5.20<b>50</b></i><i class="y a9">5.16<b>52</b></i><i class="y a10">5.01<b>62</b></i></div>
<div class="w" style="top:2110.28px"><p class="l">TLAXCALA</p><i class="y a0">4.96<b>72</b></i><i class="d a1">4.53<b>84</b></i><i class="d a2">4.01<b>94</b></i><i class="d a3">4.30<b>87</b></i><i class="d a4">3.91<b>96</b></i><i class="d a5">4.07<b>91</b></i><i class="d a6">4.10<b>92</b></i><i class="y a7">4.50<b>70</b></i><i class="d a8">4.10<b>92</b></i><i class="d a9">4.00<b>95</b></i><i class="d a10">4.10<b>98</b></i></div>
<div class="w" style="top:2130.05px"><p class="l">TOLUCA</p><i class="d a0">3.80<b>97</b></i><i class="d a1">4.15<b>93</b></i><i class="d a2">4.32<b>89</b></i><i class="d a3">4.08<b>92</b></i><i class="y a4">5.10<b>62</b></i><i class="d a5">3.93<b>95</b></i><i class="d a6">4.03<b>94</b></i><i class="d a7">3.60<b>100</b></i><i class="d a8">3.82<b>101</b></i><i class="y a9">4.64<b>76</b></i><i class="d a10">4.20<b>94</b></i></div>
<div class="w" style="top:2149.82px"><p class="l">TONALÁ</p><i class="y a0">5.19<b>61</b></i><i class="y a1">5.36<b>50</b></i><i class="y a2">4.88<b>67</b></i><i class="y a3">4.76<b>71</b></i><i class="y a4">4.72<b>73</b></i><i class="y a5">4.49<b>78</b></i><i class="y a6">4.81<b>70</b></i><i class="d a7">4.16<b>86</b></i><i class="y a8">4.64<b>76</b></i><i class="y a9">4.79<b>69</b></i><i class="y a10">4.66<b>74</b></i></div>
<div class="w" style="top:2169.59px"><p class="l">TORREÓN</p><i class="y a0">4.83<b>78</b></i><i class="d a1">4.29<b>90</b></i><i class="d a2">4.38<b>88</b></i><i class="y a3">4.85<b>68</b></i><i class="y a4">4.50<b>81</b></i><i class="y a5">4.87<b>68</b></i><i class="y a6">4.70<b>75</b></i><i class="y a7">4.73<b>61</b></i><i class="y a8">4.75<b>71</b></i><i class="y a9">4.98<b>56</b></i><i class="y a10">5.03<b>61</b></i></div>
<div class="w" style="top:2189.36px"><p class="l">TULTITLÁN</p><i class="y a0">4.88<b>75</b></i><i class="y a1">4.60<b>80</b></i><i class="y a2">4.81<b>72</b></i><i class="y a3">4.55<b>78</b></i><i class="y a4">5.19<b>57</b></i><i class="d a5">4.16<b>86</b></i><i class="y a6">4.51<b>80</b></i><i class="y a7">4.45<b>72</b></i><i class="y a8">4.41<b>81</b></i><i class="y a9">5.28<b>48</b></i><i class="y a10">4.55<b>79</b></i></div>
<div class="w" style="top:2209.13px"><p class="l">TUXTLA GUTIÉRREZ</p><i class="y a0">5.49<b>44</b></i><i class="y a1">5.45<b>45</b></i><i class="y a2">5.10<b>61</b></i><i class="y a3">5.31<b>52</b></i><i class="d a4">3.77<b>97</b></i><i class="y a5">5.76<b>30</b></i><i class="y a6">5.36<b>44</b></i><i class="y a7">5.20<b>40</b></i><i class="y a8">5.37<b>43</b></i><i class="d a9">4.38<b>85</b></i><i class="y a10">5.18<b>53</b></i></div>
<div class="w" style="top:2228.90px"><p class="l">VALLE DE CHALCO</p><i class="d a0">4.24<b>92</b></i><i class="d a1">4.23<b>92</b></i><i class="d a2">3.34<b>102</b></i><i class="d a3">3.66<b>102</b></i><i class="y a4">5.50<b>39</b></i><i class="d a5">3.49<b>102</b></i><i class="d a6">3.54<b>102</b></i><i class="d a7">4.27<b>91</b></i><i class="d a8">3.49<b>103</b></i><i class="d a9">3.79<b>98</b></i><i class="d a10">3.77<b>104</b></i></div>
<div class="w" style="top:2248.67px"><p class="l">VENUSTIANO CARRANZA</p><i class="y a0">5.63<b>39</b></i><i class="y a1">5.19<b>59</b></i><i class="y a2">5.38<b>47</b></i><i class="y a3">5.52<b>42</b></i><i class="y a4">4.80<b>70</b></i><i class="y a5">5.57<b>40</b></i><i class="y a6">5.49<b>40</b></i><i class="y a7">5.44<b>35</b></i><i class="y a8">5.49<b>40</b></i><i class="y a9">5.51<b>36</b></i><i class="y a10">5.50<b>44</b></i></div>
<div class="w" style="top:2268.44px"><p class="l">VERACRUZ</p><i class="y a0">5.15<b>64</b></i><i class="y a1">5.05<b>65</b></i><i class="y a2">4.79<b>74</b></i><i class="y a3">5.32<b>51</b></i><i class="d a4">4.21<b>85</b></i><i class="y a5">5.03<b>60</b></i><i class="y a6">4.99<b>63</b></i><i class="y a7">4.52<b>69</b></i><i class="y a8">4.81<b>68</b></i><i class="y a10">6.18<b>23</b></i></div>
<div class="w" style="top:2288.21px"><p class="l">CD. VICTORIA</p><i class="d a0">3.99<b>101</b></i><i class="d a1">3.73<b>102</b></i><i class="d a2">4.11<b>93</b></i><i class="d a3">4.18<b>90</b></i><i class="y a4">4.98<b>65</b></i><i class="y a5">4.35<b>81</b></i><i class="d a6">4.22<b>89</b></i><i class="d a7">4.17<b>85</b></i><i class="d a8">4.24<b>89</b></i><i class="d a9">4.11<b>91</b></i><i class="d a10">4.22<b>96</b></i></div>
<div class="w" style="top:2307.98px"><p class="l">VILLAHERMOSA</p><i class="y a0">5.27<b>53</b></i><i class="y a1">4.93<b>71</b></i><i class="y a2">4.68<b>79</b></i><i class="y a3">4.61<b>75</b></i><i class="y a4">5.79<b>28</b></i><i class="y a5">5.34<b>48</b></i><i class="y a6">4.90<b>67</b></i><i class="y a7">4.39<b>77</b></i><i class="y a8">4.90<b>63</b></i><i class="y a9">4.85<b>64</b></i><i class="d a10">4.38<b>87</b></i></div>
<div class="w" style="top:2327.75px"><p class="l" style="top:9px">XALAPA</p><i class="g a0">6.43<b>12</b></i><i class="y a1">6.08<b>24</b></i><i class="y a2">5.71<b>32</b></i><i class="y a3">5.67<b>37</b></i><i class="y a4">4.53<b>78</b></i><i class="y a5">5.53<b>41</b></i><i class="y a6">5.67<b>31</b></i><i class="y a7">5.86<b>26</b></i><i class="y a8">5.71<b>31</b></i><i class="y a10">4.62<b>77</b></i></div>
<div class="w" style="top:2347.52px"><p class="l">ZAPOPAN</p><i class="d a0">4.40<b>82</b></i><i class="d a1">4.38<b>89</b></i><i class="y a2">4.66<b>81</b></i><i class="d a3">4.13<b>84</b></i><i class="y a4">5.98<b>24</b></i><i class="d a5">4.13<b>87</b></i><i class="d a6">4.37<b>82</b></i><i class="d a7">4.12<b>88</b></i><i class="d a8">4.30<b>86</b></i><i class="y a9">4.49<b>79</b></i><i class="d a10">4.32<b>90</b></i></div>

<svg style="position:absolute;left:564px;top:2429px" width="46" height="46" viewBox="0 0 46 46">
<circle cx="23" cy="23" r="23" fill="#1877F2"/>
<path d="M26.5 46V29.5h5.2l.8-6.2h-6v-3.9c0-1.8.5-3 3.1-3h3.2v-5.5c-.6-.1-2.5-.2-4.6-.2-4.6 0-7.7 2.8-7.7 7.9v4.7h-5.2v6.2h5.2V46z" fill="#fff"/>
</svg>
<svg style="position:absolute;left:564px;top:2478px" width="46" height="46" viewBox="0 0 46 46">
<defs>
<linearGradient id="ig" x1="0" y1="0" x2="0.25" y2="1">
<stop offset="0" stop-color="#7B3CC4"/>
<stop offset=".35" stop-color="#C9309A"/>
<stop offset=".6" stop-color="#EC2F5E"/>
<stop offset=".82" stop-color="#F77737"/>
<stop offset="1" stop-color="#FCB045"/>
</linearGradient>
</defs>
<rect width="46" height="46" rx="11" fill="url(#ig)"/>
<rect x="9" y="9" width="28" height="28" rx="8" fill="none" stroke="#fff" stroke-width="3.2"/>
<circle cx="23" cy="23" r="6.8" fill="none" stroke="#fff" stroke-width="3.2"/>
<circle cx="31" cy="15" r="1.9" fill="#fff"/>
</svg>
<svg style="position:absolute;left:34px;top:2508px" width="152" height="42" viewBox="0 0 152 42">
<rect x="3" y="3" width="146" height="36" fill="#fff"/>
<circle cx="18" cy="21" r="15" fill="#E30613"/>
<circle cx="18" cy="21" r="11" fill="#fff"/>
<circle cx="18" cy="21" r="7.5" fill="#E30613"/>
<text x="34" y="28" font-family="Liberation Sans, Arial, sans-serif" font-weight="bold" font-size="27" textLength="114" lengthAdjust="spacingAndGlyphs" fill="#111">RUBRUM</text>
<text x="41" y="34" font-family="Liberation Sans, Arial, sans-serif" font-size="4" textLength="104" lengthAdjust="spacingAndGlyphs" fill="#333">INFORMACIÓN QUE DA PODER</text>
</svg>
</body>
</html>
